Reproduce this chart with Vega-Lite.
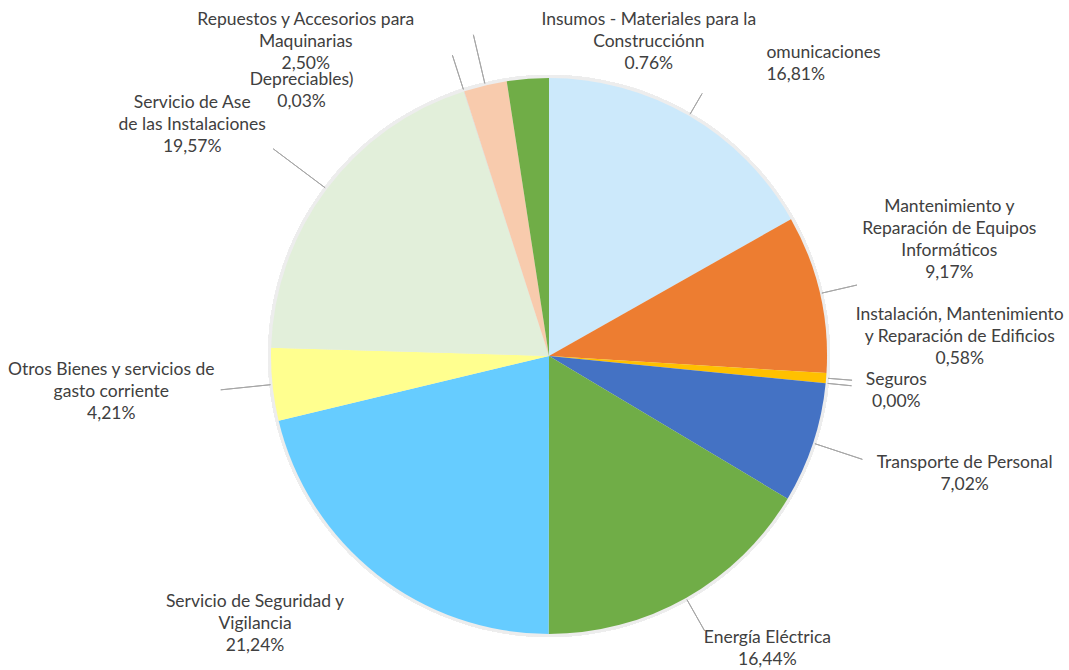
{
  "$schema": "https://vega.github.io/schema/vega-lite/v6.json",
  "width": 1040,
  "height": 628,
  "autosize": {"type": "none"},
  "padding": {"left": 29, "top": 42, "right": 0, "bottom": 0},
  "background": "white",
  "view": {"stroke": null},
  "config": {"text": {"lineBreak": "\n"}},
  "data": {
    "values": [
      {"orden": 1, "categoria": "Comunicaciones", "valor": 16.81, "etiqueta": "omunicaciones\n16,81%"},
      {"orden": 2, "categoria": "Mantenimiento y Reparación de Equipos Informáticos", "valor": 9.17, "etiqueta": "Mantenimiento y\nReparación de Equipos\nInformáticos\n9,17%"},
      {"orden": 3, "categoria": "Instalación, Mantenimiento y Reparación de Edificios", "valor": 0.58, "etiqueta": "Instalación, Mantenimiento\ny Reparación de Edificios\n0,58%"},
      {"orden": 4, "categoria": "Seguros", "valor": 0.0, "etiqueta": "Seguros\n0,00%"},
      {"orden": 5, "categoria": "Transporte de Personal", "valor": 7.02, "etiqueta": "Transporte de Personal\n7,02%"},
      {"orden": 6, "categoria": "Energía Eléctrica", "valor": 16.44, "etiqueta": "Energía Eléctrica\n16,44%"},
      {"orden": 7, "categoria": "Servicio de Seguridad y Vigilancia", "valor": 21.24, "etiqueta": "Servicio de Seguridad y\nVigilancia\n21,24%"},
      {"orden": 8, "categoria": "Otros Bienes y servicios de gasto corriente", "valor": 4.21, "etiqueta": "Otros Bienes y servicios de\ngasto corriente\n4,21%"},
      {"orden": 9, "categoria": "Servicio de Aseo de las Instalaciones", "valor": 19.57, "etiqueta": "Servicio de Ase\u00a0\u00a0\u00a0\u00a0\u00a0\u00a0\u00a0\u00a0\u00a0\u00a0\u00a0\u00a0\u00a0\u00a0\u00a0\u00a0\u00a0\u00a0\nde las Instalaciones\n19,57%"},
      {"orden": 10, "categoria": "Materiales Depreciables", "valor": 0.03, "etiqueta": "Depreciables)\n0,03%"},
      {"orden": 11, "categoria": "Repuestos y Accesorios para Maquinarias", "valor": 2.50, "etiqueta": "Repuestos y Accesorios para\nMaquinarias\n2,50%"},
      {"orden": 12, "categoria": "Insumos - Materiales para la Construcción", "valor": 2.43, "etiqueta": "Insumos - Materiales para la\nConstrucciónn\n0.76%"}
    ]
  },
  "transform": [
    {"window": [{"op": "sum", "field": "valor", "as": "acum"}], "sort": [{"field": "orden"}], "frame": [null, 0]},
    {"calculate": "datum.acum - datum.valor / 2", "as": "medio"}
  ],
  "layer": [
    {
      "mark": {"type": "arc", "outerRadius": 281, "fill": "#ededed", "stroke": null},
      "encoding": {}
    },
    {
      "mark": {"type": "arc", "outerRadius": 278},
      "encoding": {
        "theta": {"field": "valor", "type": "quantitative", "stack": true, "scale": {"domain": [0, 100]}},
        "order": {"field": "orden", "type": "quantitative"},
        "color": {
          "field": "categoria",
          "type": "nominal",
          "legend": null,
          "scale": {
            "domain": ["Comunicaciones", "Mantenimiento y Reparación de Equipos Informáticos", "Instalación, Mantenimiento y Reparación de Edificios", "Seguros", "Transporte de Personal", "Energía Eléctrica", "Servicio de Seguridad y Vigilancia", "Otros Bienes y servicios de gasto corriente", "Servicio de Aseo de las Instalaciones", "Materiales Depreciables", "Repuestos y Accesorios para Maquinarias", "Insumos - Materiales para la Construcción"],
            "range": ["#CCE9FB", "#ED7D31", "#FFC000", "#A5A5A5", "#4472C4", "#70AD47", "#66CCFF", "#FFFF8F", "#E2EFDA", "#D9D9D9", "#F8CBAD", "#70AD47"]
          }
        }
      }
    },
    {
      "transform": [{"filter": "datum.orden == 1 || datum.orden == 3 || datum.orden == 4"}],
      "mark": {"type": "arc", "innerRadius": 280, "outerRadius": 304, "fill": null, "stroke": "#A6A6A6", "strokeWidth": 1},
      "encoding": {"theta": {"field": "medio", "type": "quantitative", "stack": null, "scale": {"domain": [0, 100]}}, "theta2": {"field": "medio"}}
    },
    {
      "transform": [{"filter": "datum.orden == 2 || datum.orden == 6 || datum.orden == 10"}],
      "mark": {"type": "arc", "innerRadius": 280, "outerRadius": 316, "fill": null, "stroke": "#A6A6A6", "strokeWidth": 1},
      "encoding": {"theta": {"field": "medio", "type": "quantitative", "stack": null, "scale": {"domain": [0, 100]}}, "theta2": {"field": "medio"}}
    },
    {
      "transform": [{"filter": "datum.orden == 5 || datum.orden == 8 || datum.orden == 11"}],
      "mark": {"type": "arc", "innerRadius": 280, "outerRadius": 330, "fill": null, "stroke": "#A6A6A6", "strokeWidth": 1},
      "encoding": {"theta": {"field": "medio", "type": "quantitative", "stack": null, "scale": {"domain": [0, 100]}}, "theta2": {"field": "medio"}}
    },
    {
      "transform": [{"filter": "datum.orden == 9"}],
      "mark": {"type": "arc", "innerRadius": 280, "outerRadius": 345, "fill": null, "stroke": "#A6A6A6", "strokeWidth": 1},
      "encoding": {"theta": {"field": "medio", "type": "quantitative", "stack": null, "scale": {"domain": [0, 100]}}, "theta2": {"field": "medio"}}
    },
    {
      "transform": [{"filter": "datum.orden == 1"}],
      "mark": {"type": "text", "radius": 366, "dx": 33, "dy": 13, "align": "left", "baseline": "middle", "font": "Lato", "fontSize": 17.5, "lineHeight": 22, "fill": "#404040"},
      "encoding": {"theta": {"field": "medio", "type": "quantitative", "stack": null, "scale": {"domain": [0, 100]}}, "text": {"field": "etiqueta"}}
    },
    {
      "transform": [{"filter": "datum.orden == 2"}],
      "mark": {"type": "text", "radius": 416, "dx": -5, "dy": -56, "align": "center", "baseline": "middle", "font": "Lato", "fontSize": 17.5, "lineHeight": 22, "fill": "#404040"},
      "encoding": {"theta": {"field": "medio", "type": "quantitative", "stack": null, "scale": {"domain": [0, 100]}}, "text": {"field": "etiqueta"}}
    },
    {
      "transform": [{"filter": "datum.orden == 3"}],
      "mark": {"type": "text", "radius": 398, "dx": 14, "dy": -73, "align": "center", "baseline": "middle", "font": "Lato", "fontSize": 17.5, "lineHeight": 22, "fill": "#404040"},
      "encoding": {"theta": {"field": "medio", "type": "quantitative", "stack": null, "scale": {"domain": [0, 100]}}, "text": {"field": "etiqueta"}}
    },
    {
      "transform": [{"filter": "datum.orden == 4"}],
      "mark": {"type": "text", "radius": 346, "dx": 3, "dy": -10, "align": "center", "baseline": "middle", "font": "Lato", "fontSize": 17.5, "lineHeight": 22, "fill": "#404040"},
      "encoding": {"theta": {"field": "medio", "type": "quantitative", "stack": null, "scale": {"domain": [0, 100]}}, "text": {"field": "etiqueta"}}
    },
    {
      "transform": [{"filter": "datum.orden == 5"}],
      "mark": {"type": "text", "radius": 445, "dx": -7, "dy": -32, "align": "center", "baseline": "middle", "font": "Lato", "fontSize": 17.5, "lineHeight": 22, "fill": "#404040"},
      "encoding": {"theta": {"field": "medio", "type": "quantitative", "stack": null, "scale": {"domain": [0, 100]}}, "text": {"field": "etiqueta"}}
    },
    {
      "transform": [{"filter": "datum.orden == 6"}],
      "mark": {"type": "text", "radius": 364, "dx": 39, "dy": -35, "align": "center", "baseline": "middle", "font": "Lato", "fontSize": 17.5, "lineHeight": 22, "fill": "#404040"},
      "encoding": {"theta": {"field": "medio", "type": "quantitative", "stack": null, "scale": {"domain": [0, 100]}}, "text": {"field": "etiqueta"}}
    },
    {
      "transform": [{"filter": "datum.orden == 7"}],
      "mark": {"type": "text", "radius": 392, "dx": -51, "dy": -62, "align": "center", "baseline": "middle", "font": "Lato", "fontSize": 17.5, "lineHeight": 22, "fill": "#404040"},
      "encoding": {"theta": {"field": "medio", "type": "quantitative", "stack": null, "scale": {"domain": [0, 100]}}, "text": {"field": "etiqueta"}}
    },
    {
      "transform": [{"filter": "datum.orden == 8"}],
      "mark": {"type": "text", "radius": 438, "dx": -2, "dy": -31, "align": "center", "baseline": "middle", "font": "Lato", "fontSize": 17.5, "lineHeight": 22, "fill": "#404040"},
      "encoding": {"theta": {"field": "medio", "type": "quantitative", "stack": null, "scale": {"domain": [0, 100]}}, "text": {"field": "etiqueta"}}
    },
    {
      "transform": [{"filter": "datum.orden == 9"}],
      "mark": {"type": "text", "radius": 435, "dx": -9, "dy": 8, "align": "center", "baseline": "middle", "font": "Lato", "fontSize": 17.5, "lineHeight": 22, "fill": "#404040"},
      "encoding": {"theta": {"field": "medio", "type": "quantitative", "stack": null, "scale": {"domain": [0, 100]}}, "text": {"field": "etiqueta"}}
    },
    {
      "transform": [{"filter": "datum.orden == 10"}],
      "mark": {"type": "text", "radius": 371, "dx": -134, "dy": 77, "align": "center", "baseline": "middle", "font": "Lato", "fontSize": 17.5, "lineHeight": 22, "fill": "#404040"},
      "encoding": {"theta": {"field": "medio", "type": "quantitative", "stack": null, "scale": {"domain": [0, 100]}}, "text": {"field": "etiqueta"}}
    },
    {
      "transform": [{"filter": "datum.orden == 11"}],
      "mark": {"type": "text", "radius": 398, "dx": -152, "dy": 51, "align": "center", "baseline": "middle", "font": "Lato", "fontSize": 17.5, "lineHeight": 22, "fill": "#404040"},
      "encoding": {"theta": {"field": "medio", "type": "quantitative", "stack": null, "scale": {"domain": [0, 100]}}, "text": {"field": "etiqueta"}}
    },
    {
      "transform": [{"filter": "datum.orden == 12"}],
      "mark": {"type": "text", "radius": 330, "dx": 125, "dy": -7, "align": "center", "baseline": "middle", "font": "Lato", "fontSize": 17.5, "lineHeight": 22, "fill": "#404040"},
      "encoding": {"theta": {"field": "medio", "type": "quantitative", "stack": null, "scale": {"domain": [0, 100]}}, "text": {"field": "etiqueta"}}
    }
  ]
}
